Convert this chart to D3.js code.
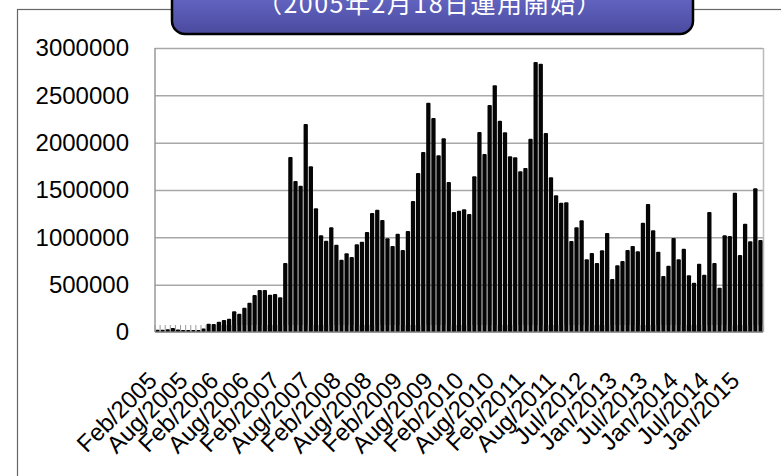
<!DOCTYPE html>
<html>
<head>
<meta charset="utf-8">
<script src="https://cdn.jsdelivr.net/npm/d3@7"></script>
<style>
    body { margin: 0; background: #fff; }
    svg { display: block; }
    .ylab text { font-family: "Liberation Sans", Arial, sans-serif; font-size: 24px; fill: #000; }
    .xlab text { font-family: "Liberation Sans", Arial, sans-serif; font-size: 24px; fill: #000; }
</style>
</head>
<body>
<svg id="chart"></svg>
<script>
// monthly values (Feb 2005 ..)
var values = [
    25000, 24000, 30000, 42000, 26000, 20000, 20000, 20000, 22000, 36000,
    88000, 85000, 109000, 127000, 141000, 218000, 194000, 257000, 310000, 391000,
    444000, 444000, 394000, 401000, 366000, 729000, 1849000, 1595000, 1546000, 2197000,
    1750000, 1306000, 1021000, 965000, 1106000, 922000, 764000, 831000, 792000, 926000,
    954000, 1056000, 1257000, 1292000, 1183000, 989000, 908000, 1039000, 866000, 1067000,
    1384000, 1680000, 1901000, 2422000, 2260000, 1866000, 2046000, 1584000, 1268000, 1282000,
    1296000, 1246000, 1644000, 2113000, 1880000, 2398000, 2606000, 2232000, 2109000, 1856000,
    1845000, 1697000, 1732000, 2042000, 2852000, 2834000, 2102000, 1634000, 1444000, 1366000,
    1370000, 961000, 1106000, 1180000, 768000, 834000, 729000, 863000, 1046000, 560000,
    704000, 750000, 866000, 908000, 852000, 1155000, 1352000, 1074000, 849000, 592000,
    701000, 993000, 768000, 880000, 599000, 521000, 722000, 606000, 1268000, 729000,
    468000, 1021000, 1014000, 1472000, 813000, 1144000, 958000, 1518000, 972000
];

// one label every 6th bar
var tickLabels = [
    "Feb/2005", "Aug/2005", "Feb/2006", "Aug/2006", "Feb/2007", "Aug/2007",
    "Feb/2008", "Aug/2008", "Feb/2009", "Aug/2009", "Feb/2010", "Aug/2010",
    "Feb/2011", "Aug/2011", "Jul/2012", "Jan/2013", "Jul/2013", "Jan/2014",
    "Jul/2014", "Jan/2015"
];
var tickStep = 6;

var yTicks = [0, 500000, 1000000, 1500000, 2000000, 2500000, 3000000];

var subtitle = "（2005年2月18日運用開始）";

var width = 781,
    height = 476;

var svg = d3.select("#chart")
    .attr("width", width)
    .attr("height", height);

// title box gradient
var grad = svg.append("defs").append("linearGradient")
    .attr("id", "boxGrad")
    .attr("x1", 0).attr("y1", 0).attr("x2", 0).attr("y2", 1);
grad.append("stop").attr("offset", "0%").attr("stop-color", "#7478dc");
grad.append("stop").attr("offset", "100%").attr("stop-color", "#4a4a9e");

// outer chart frame (runs off the bottom/right)
svg.append("rect")
    .attr("x", 17.5).attr("y", 9.5)
    .attr("width", 800).attr("height", 500)
    .attr("fill", "none")
    .attr("stroke", "#666")
    .attr("stroke-width", 1.2);

var x = d3.scaleBand()
    .domain(d3.range(values.length))
    .range([155, 763])
    .paddingInner(0.16)
    .paddingOuter(0.08);

var y = d3.scaleLinear()
    .domain([0, 3000000])
    .range([332, 48]);

// gridlines
svg.append("g")
    .attr("transform", "translate(155,0)")
    .call(d3.axisLeft(y).tickValues(yTicks.slice(1)).tickSize(-608).tickFormat(""))
    .call(function (g) {
        g.select(".domain").remove();
        g.selectAll("line").attr("stroke", "#a8a8a8").attr("stroke-width", 1.5);
    });

// right border of plot
svg.append("line")
    .attr("x1", 763.5).attr("x2", 763.5)
    .attr("y1", y(3000000)).attr("y2", y(0))
    .attr("stroke", "#bbb").attr("stroke-width", 1.5);

// bars
svg.append("g").selectAll("rect")
    .data(values).enter()
    .append("rect")
    .attr("x", function (d, i) { return x(i); })
    .attr("y", function (d) { return y(d); })
    .attr("width", x.bandwidth())
    .attr("height", function (d) { return y(0) - y(d); })
    .attr("rx", 1)
    .attr("fill", "#050505");

// category tick marks between bars
var step = x.step();
svg.append("g").selectAll("line")
    .data(d3.range(values.length + 1)).enter()
    .append("line")
    .attr("x1", function (i) { return 155 + i * step; })
    .attr("x2", function (i) { return 155 + i * step; })
    .attr("y1", y(0) - 7).attr("y2", y(0))
    .attr("stroke", "#999").attr("stroke-width", 1);

// y axis line and baseline
svg.append("line")
    .attr("x1", 155).attr("x2", 155)
    .attr("y1", y(3000000)).attr("y2", y(0))
    .attr("stroke", "#999").attr("stroke-width", 1.5);
svg.append("line")
    .attr("x1", 155).attr("x2", 763)
    .attr("y1", y(0)).attr("y2", y(0))
    .attr("stroke", "#777").attr("stroke-width", 1.5);

// y labels
svg.append("g")
    .attr("class", "ylab")
    .attr("transform", "translate(155,0)")
    .call(d3.axisLeft(y).tickValues(yTicks).tickSize(0).tickPadding(26).tickFormat(d3.format("d")))
    .call(function (g) { g.select(".domain").remove(); });

// x labels, rotated
svg.append("g")
    .attr("class", "xlab")
    .selectAll("text")
    .data(tickLabels).enter()
    .append("text")
    .attr("text-anchor", "end")
    .attr("transform", function (d, i) {
        var cx = x(i * tickStep) + x.bandwidth() / 2;
        return "translate(" + (cx + 1) + "," + (y(0) + 50) + ") rotate(-45)";
    })
    .text(function (d) { return d; });

// title box (top part clipped by the viewport)
svg.append("rect")
    .attr("x", 172).attr("y", -30)
    .attr("width", 521).attr("height", 64)
    .attr("rx", 13)
    .attr("fill", "url(#boxGrad)")
    .attr("stroke", "#000")
    .attr("stroke-width", 2.5);

svg.append("text")
    .attr("x", 430).attr("y", 13)
    .attr("text-anchor", "middle")
    .attr("fill", "#fff")
    .style("font-family", "'Noto Sans CJK JP', sans-serif")
    .style("font-size", "25px")
    .style("letter-spacing", "1.5px")
    .text(subtitle);
</script>
</body>
</html>
